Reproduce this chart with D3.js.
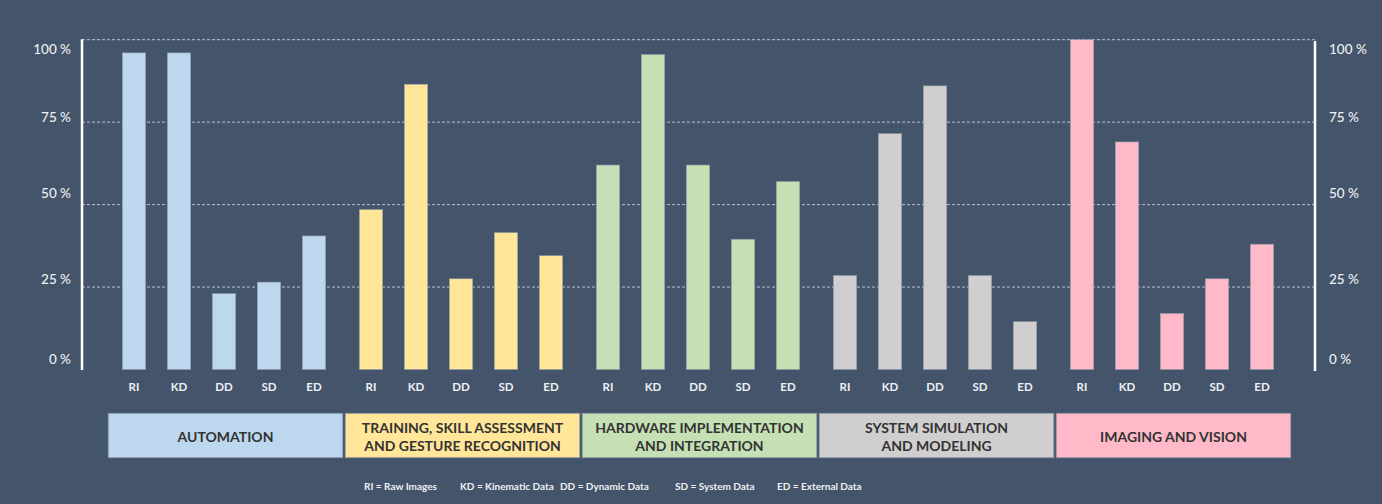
<!DOCTYPE html>
<html>
<head>
<meta charset="utf-8">
<script src="https://cdn.jsdelivr.net/npm/d3@7"></script>
<style>
  html, body { margin: 0; padding: 0; background: #44546A; }
  svg { display: block; }
</style>
</head>
<body>
<div id="chart"></div>
<script>
// data
const groupNames = ["AUTOMATION", "TRAINING, SKILL ASSESSMENT|AND GESTURE RECOGNITION", "HARDWARE IMPLEMENTATION|AND INTEGRATION", "SYSTEM SIMULATION|AND MODELING", "IMAGING AND VISION"]
const dataTypes = ["RI", "KD", "DD", "SD", "ED"]
const automation = [96, 96, 23, 26.5, 40.5]
const training = [48.5, 86.5, 27.5, 41.5, 34.5]
const hardware = [62, 95.5, 62, 39.5, 57]
const simulation = [28.5, 71.5, 86, 28.5, 14.5]
const imaging = [100, 69, 17, 27.5, 38]
const yTicks = [0, 25, 50, 75, 100]
const legendItems = ["RI = Raw Images", "KD = Kinematic Data", "DD = Dynamic Data", "SD = System Data", "ED = External Data"]
const groupColors = ["#BDD7EE", "#FFE699", "#C5E0B4", "#D0CECE", "#FFB9C8"]

const seriesByGroup = [automation, training, hardware, simulation, imaging]

const W = 1382, H = 504
const svg = d3.select("#chart").append("svg").attr("width", W).attr("height", H)
svg.append("rect").attr("width", W).attr("height", H).attr("fill", "#44546A")

//scales
const y = d3.scaleLinear().domain([0, 100]).range([369.5, 39.7])
// tick labels in the original sit a little off the gridlines
const yLabel = d3.scaleLinear().domain(yTicks).range([359, 279, 193, 117, 49])

const x0 = d3.scaleBand().domain(d3.range(groupNames.length))
    .range([111.5, 111.5 + 5 * 237 - 12]).paddingInner(12 / 237).paddingOuter(0)
const x1 = d3.scaleBand().domain(dataTypes).range([0, x0.bandwidth()])
    .paddingInner(0.48).paddingOuter(0.24)

const leftX = 82, rightX = 1315

// gridlines
svg.append("g").selectAll("line").data(yTicks.filter(t => t > 0)).join("line")
    .attr("x1", leftX).attr("x2", rightX)
    .attr("y1", d => y(d)).attr("y2", d => y(d))
    .attr("stroke", "#b8c2cf").attr("stroke-width", 1)
    .attr("stroke-dasharray", "3,2")

// bars
const groupsG = svg.append("g").selectAll("g").data(seriesByGroup).join("g")
    .attr("transform", (d, i) => `translate(${x0(i)},0)`)

groupsG.selectAll("rect").data((d, i) => d.map((v, j) => ({key: dataTypes[j], value: v, g: i}))).join("rect")
    .attr("x", d => x1(d.key))
    .attr("width", x1.bandwidth())
    .attr("y", d => y(d.value))
    .attr("height", d => y(0) - y(d.value))
    .attr("fill", d => groupColors[d.g])
    .attr("stroke", "#8e99a8").attr("stroke-width", 0.6)

// x labels under bars
groupsG.selectAll("text").data(dataTypes).join("text")
    .attr("x", d => x1(d) + x1.bandwidth() / 2)
    .attr("y", 386)
    .attr("text-anchor", "middle").attr("dominant-baseline", "central")
    .attr("font-family", "Lato, sans-serif").attr("font-weight", "bold")
    .attr("font-size", 11.5).attr("fill", "#eef0f3")
    .text(d => d)

// axes lines
svg.append("line").attr("x1", leftX).attr("x2", leftX).attr("y1", 39.3).attr("y2", 370)
    .attr("stroke", "#ffffff").attr("stroke-width", 2.5)
svg.append("line").attr("x1", rightX).attr("x2", rightX).attr("y1", 41).attr("y2", 371)
    .attr("stroke", "#ffffff").attr("stroke-width", 2.5)

// tick labels
const tickFont = sel => sel.attr("font-family", "Lato, sans-serif").attr("font-size", 13.5)
    .attr("font-weight", 500)
    .attr("fill", "#eef0f3").attr("dominant-baseline", "central")
svg.append("g").selectAll("text").data(yTicks).join("text")
    .attr("x", 71).attr("y", d => yLabel(d)).attr("text-anchor", "end")
    .call(tickFont).text(d => `${d} %`)
svg.append("g").selectAll("text").data(yTicks).join("text")
    .attr("x", 1329).attr("y", d => yLabel(d)).attr("text-anchor", "start")
    .call(tickFont).text(d => `${d} %`)

// category boxes
const boxW = x0.step() - 2.5
const boxes = svg.append("g").selectAll("g").data(groupNames).join("g")
    .attr("transform", (d, i) => `translate(${x0(i) + x0.bandwidth() / 2 + 1.5},0)`)
boxes.append("rect")
    .attr("x", -boxW / 2).attr("width", boxW)
    .attr("y", 413.3).attr("height", 44.4)
    .attr("fill", (d, i) => groupColors[i])
    .attr("stroke", "#8e99a8").attr("stroke-width", 0.8)
boxes.each(function(d) {
    const lines = d.split("|")
    const g = d3.select(this)
    g.selectAll("text").data(lines).join("text")
        .attr("x", 0)
        .attr("y", (l, k) => 436 + (k - (lines.length - 1) / 2) * 18)
        .attr("text-anchor", "middle").attr("dominant-baseline", "central")
        .attr("font-family", "Lato, sans-serif").attr("font-weight", "bold")
        .attr("font-size", 14).attr("fill", "#333333")
        .text(l => l)
})

// legend text, left edges as in the original
const legendStarts = [364, 460, 560, 675, 777]
svg.append("g").selectAll("text").data(legendItems).join("text")
    .attr("x", (d, i) => legendStarts[i]).attr("y", 486)
    .attr("dominant-baseline", "central")
    .attr("font-family", "Lato, sans-serif").attr("font-weight", "bold")
    .attr("font-size", 10).attr("fill", "#eef0f3")
    .text(d => d)
</script>
</body>
</html>
